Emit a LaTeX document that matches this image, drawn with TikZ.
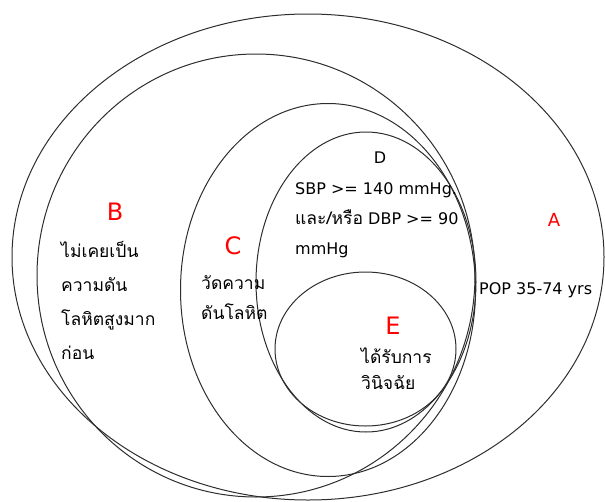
\documentclass[tikz,border=0pt]{standalone}
\usepackage{fontspec}
\setmainfont{DejaVu Sans}
\newfontfamily\thaifont[Script=Thai]{Loma}
\usetikzlibrary{shapes.geometric}
\definecolor{setred}{RGB}{255,0,0}
\definecolor{ringgray}{RGB}{45,45,45}

\begin{document}
\begin{tikzpicture}[
    x=1pt, y=-1pt,
    ring/.style={ellipse, draw=ringgray, line width=1pt, inner sep=0pt},
    setlabel/.style={text=setred, inner sep=0pt, anchor=base,
      font=\fontsize{24}{28}\selectfont},
    body/.style={align=left, anchor=base west, inner sep=0pt,
      font=\fontsize{16}{30}\selectfont},
    thaibody/.style={body, font=\fontsize{17.5}{30}\selectfont\thaifont}
  ]
  \useasboundingbox (0,0) rectangle (605,501);

  % nested sets, outermost first
  \node[ring, minimum width=592pt, minimum height=486pt] (setA) at (308,257) {};
  \node[ring, minimum width=438pt, minimum height=443pt] (setB) at (256,275.5) {};
  \node[ring, minimum width=295pt, minimum height=373pt] (setC) at (328,290) {};
  \node[ring, minimum width=220pt, minimum height=300pt] (setD) at (366,282) {};
  \node[ring, minimum width=181pt, minimum height=154pt] (setE) at (365.5,349) {};

  % A
  \node[setlabel, font=\fontsize{18}{20}\selectfont] (labA) at (554,226.5) {A};
  \node[body] (textA) at (479,294) {POP 35-74 yrs};

  % B (base = last line)
  \node[setlabel] (labB) at (115,220) {B};
  \node[thaibody, font=\fontsize{17.5}{34}\selectfont\thaifont] (textB) at (61,359)
    {ไม่เคยเป็น\\ความดัน\\โลหิตสูงมาก\\ก่อน};

  % C
  \node[setlabel] (labC) at (233,254) {C};
  \node[thaibody] (textC) at (201,319) {วัดความ\\ดันโลหิต};

  % D
  \node[setlabel, text=black, font=\fontsize{16}{20}\selectfont] (labD) at (380,163) {D};
  \node[body] (textD) at (295,254)
    {SBP >= 140 mmHg.\\{\thaifont\fontsize{17.5}{30}\selectfont และ/หรือ} DBP >= 90\\mmHg};

  % E
  \node[setlabel] (labE) at (393,334) {E};
  \node[thaibody, font=\fontsize{17.5}{26}\selectfont\thaifont] (textE) at (361,389)
    {ได้รับการ\\วินิจฉัย};
\end{tikzpicture}
\end{document}
